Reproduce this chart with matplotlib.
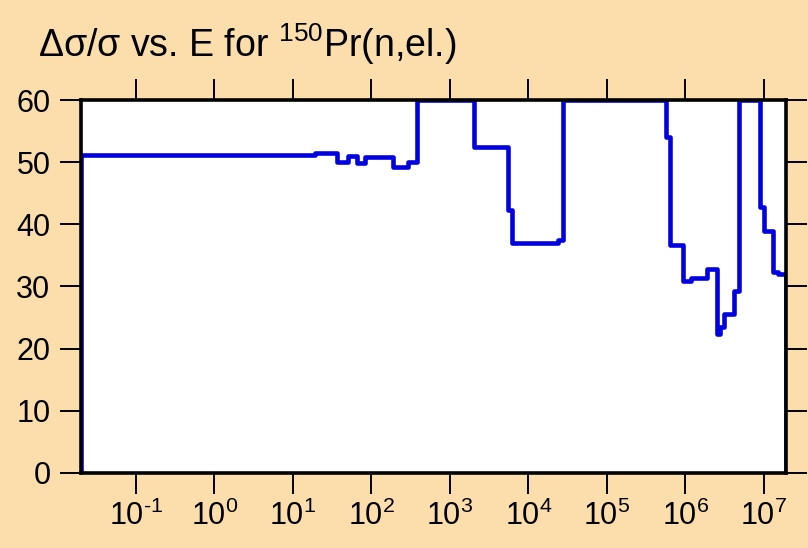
import numpy as np
import matplotlib
matplotlib.use("Agg")
import matplotlib.pyplot as plt

# left edges of each step (eV) and the relative uncertainty (%) on that step
edges = [2.0e-2, 19.4, 36.6, 51.0, 66.0, 84.0, 191.0, 297.0, 386.0,
         2014.0, 5570.0, 6210.0, 24150.0, 28000.0,
         5.69e5, 6.46e5, 9.37e5, 1.19e6, 1.91e6, 2.54e6, 2.75e6, 3.08e6,
         4.22e6, 4.79e6, 8.85e6, 9.96e6, 1.31e7, 1.53e7]
vals = [51.2, 51.5, 50.1, 51.0, 49.8, 50.9, 49.2, 50.0, 60.0,
        52.5, 42.3, 37.0, 37.4, 60.0,
        54.0, 36.6, 30.9, 31.3, 32.8, 22.3, 23.5, 25.5,
        29.2, 60.0, 42.8, 38.9, 32.3, 32.0]
e_end = 1.92e7

xticks = [1e-1, 1e0, 1e1, 1e2, 1e3, 1e4, 1e5, 1e6, 1e7]
xlabels = [r"$10^{\text{-1}}$", r"$10^{0}$", r"$10^{1}$", r"$10^{2}$",
           r"$10^{3}$", r"$10^{4}$", r"$10^{5}$", r"$10^{6}$", r"$10^{7}$"]
yticks = [0, 10, 20, 30, 40, 50, 60]

plt.rcParams["font.family"] = ["Liberation Sans", "DejaVu Sans"]
plt.rcParams["mathtext.fontset"] = "custom"
plt.rcParams["mathtext.rm"] = "Liberation Sans"
plt.rcParams["mathtext.it"] = "Liberation Sans"
plt.rcParams["mathtext.bf"] = "Liberation Sans:bold"
plt.rcParams["axes.unicode_minus"] = False

bg = "#fcdead"
fig = plt.figure(figsize=(8.08, 5.48), dpi=100, facecolor=bg)
ax = fig.add_axes([0.1002, 0.1369, 0.8726, 0.6806])
ax.set_facecolor("white")

# build the step outline, starting and ending at zero
x = np.repeat(np.r_[edges, e_end], 2)
y = np.r_[0, np.repeat(vals, 2), 0]
ax.plot(x, y, color="#0000e0", lw=3.3, zorder=2)

ax.set_xscale("log")
ax.set_xlim(2.0e-2, e_end)
ax.set_ylim(0, 60)

ax.set_xticks(xticks)
ax.set_xticklabels(xlabels)
ax.xaxis.set_minor_locator(matplotlib.ticker.NullLocator())
ax.set_yticks(yticks)

ax.tick_params(axis="both", direction="out", length=15, width=1.4,
               labelsize=22, colors="black")
ax.tick_params(axis="x", top=True, pad=5)
ax.tick_params(axis="y", right=True, pad=7)

for s in ax.spines.values():
    s.set_linewidth(2.6)
    s.set_zorder(3)

fig.text(38 / 808, 1 - 57 / 548,
         "Δσ/σ vs. E for $^{150}$Pr(n,el.)",
         fontsize=27, ha="left", va="baseline")

fig.savefig("out.png", dpi=100, facecolor=bg)
